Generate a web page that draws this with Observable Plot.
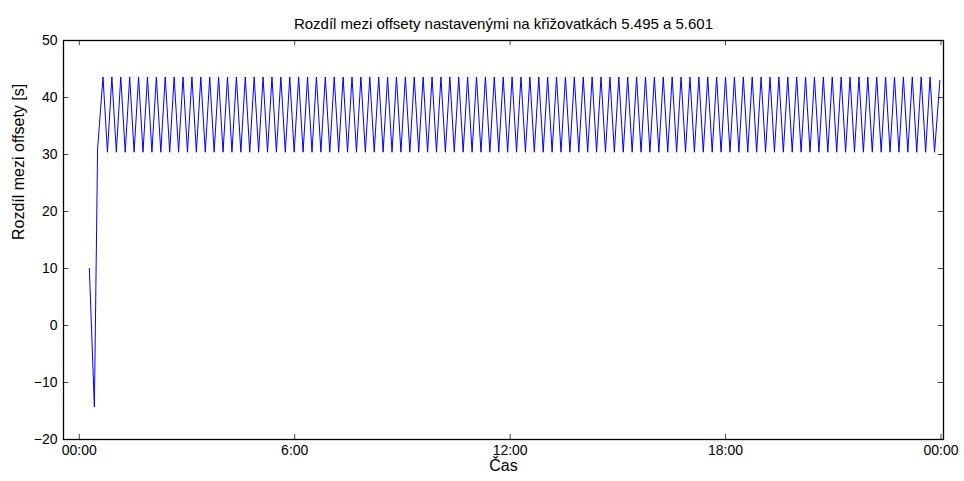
<!DOCTYPE html>
<html><head><meta charset="utf-8">
<script src="https://cdn.jsdelivr.net/npm/d3@7"></script>
<script src="https://cdn.jsdelivr.net/npm/@observablehq/plot@0.6"></script>
<style>body{margin:0;background:#fff;font-family:"Liberation Sans",Arial,sans-serif}</style>
</head><body><div id="c"></div>
<script>
// startup points (hours, seconds)
const startHours = [0.28, 0.42, 0.51];
const startValues = [10, -14.3, 31];
// steady oscillation
const firstPeakHour = 0.66;
const periodHours = 0.2477;
const cycleHigh = 43.6;
const cycleLow = 30.4;
const cycleCount = 93;
const endHour = 23.97, endValue = 43;
const xTickHours = [0, 6, 12, 18, 24];
const xTickLabels = ["00:00", "6:00", "12:00", "18:00", "00:00"];
const yTicks = [-20, -10, 0, 10, 20, 30, 40, 50];

const data = startHours.map((h, i) => ({h, v: startValues[i]}));
for (let k = 0; k <= cycleCount; k++) {
  const t = firstPeakHour + k * periodHours;
  data.push({h: t, v: cycleHigh});
  if (k < cycleCount) data.push({h: t + periodHours / 2, v: cycleLow});
}
data.push({h: firstPeakHour + cycleCount * periodHours + periodHours / 2, v: cycleLow});
data.push({h: endHour, v: endValue});

const x0 = -0.44, x1 = 24.07, y0 = -20, y1 = 50;
const tx = (x1 - x0) * 0.006, ty = (y1 - y0) * 0.013;
const font = "Liberation Sans, Arial, sans-serif";
const chart = Plot.plot({
  width: 964, height: 481,
  marginLeft: 63, marginRight: 21, marginTop: 40, marginBottom: 42,
  style: {fontFamily: font, fontSize: "14px", color: "#000", background: "#fff"},
  x: {domain: [x0, x1]},
  y: {domain: [y0, y1]},
  marks: [
    Plot.axisX({ticks: xTickHours, tickFormat: (d, i) => xTickLabels[i], tickSize: 0, tickPadding: 6, label: null, fontSize: 14}),
    Plot.axisY({ticks: yTicks, tickSize: 0, tickPadding: 6, label: null, fontSize: 14}),
    Plot.ruleX(xTickHours, {x: d => d, y1: y0, y2: y0 + ty, stroke: "#444"}),
    Plot.ruleX(xTickHours, {x: d => d, y1: y1, y2: y1 - ty, stroke: "#444"}),
    Plot.ruleY(yTicks, {y: d => d, x1: x0, x2: x0 + tx, stroke: "#444"}),
    Plot.ruleY(yTicks, {y: d => d, x1: x1, x2: x1 - tx, stroke: "#444"}),
    Plot.line(data, {x: "h", y: "v", stroke: "#0000ff", strokeWidth: 1}),
    Plot.frame({stroke: "#000", strokeWidth: 1.3}),
    Plot.text(["Rozdíl mezi offsety nastavenými na křižovatkách 5.495 a 5.601"], {frameAnchor: "top", dy: -22, fontSize: 15, text: d => d}),
    Plot.text(["Čas"], {frameAnchor: "bottom", dy: 31, fontSize: 16, text: d => d}),
    Plot.text(["Rozdíl mezi offsety [s]"], {frameAnchor: "left", dx: -45, rotate: -90, fontSize: 16, text: d => d})
  ]
});
document.getElementById("c").appendChild(chart);
</script></body></html>
